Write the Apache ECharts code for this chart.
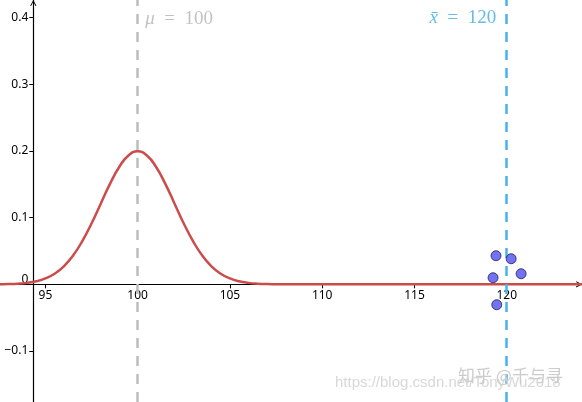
<!DOCTYPE html>
<html><head><meta charset="utf-8">
<script src="https://cdn.jsdelivr.net/npm/echarts@6/dist/echarts.min.js"></script>
<style>html,body{margin:0;padding:0;background:#fff}#c{width:582px;height:402px}</style>
</head><body><div id="c"></div>
<script>
const xRange = [92.54, 124.08];
const yRange = [-0.1765, 0.4265];
const yAxisCrossX = 94.345;
const xAxisCrossY = 0;
const xTicks = [95, 100, 105, 110, 115, 120];
const yTicks = [-0.1, 0, 0.1, 0.2, 0.3, 0.4];
const curveX = [92, 92.5, 93, 93.5, 94, 94.5, 95, 95.5, 96, 96.5, 97, 97.5, 98, 98.5, 99, 99.5, 100,
  100.5, 101, 101.5, 102, 102.5, 103, 103.5, 104, 104.5, 105, 105.5, 106, 106.5, 107, 107.5, 108, 110, 115, 125];
const curveY = [0.0000, 0.0002, 0.0004, 0.0010, 0.0022, 0.0045, 0.0088, 0.0159, 0.0270, 0.0431, 0.0648, 0.0913,
  0.1210, 0.1506, 0.1760, 0.1933, 0.1995, 0.1933, 0.1760, 0.1506, 0.1210, 0.0913, 0.0648, 0.0431, 0.0270,
  0.0159, 0.0088, 0.0045, 0.0022, 0.0010, 0.0004, 0.0002, 0.0001, 0, 0, 0];
const sampleX = [119.42, 120.24, 119.26, 120.78, 119.46];
const sampleY = [0.0429, 0.0384, 0.0099, 0.0159, -0.0306];
const mu = 100;
const xbar = 120;
const muLabelY = 0.398;
const xbarLabelY = 0.399;

const chart = echarts.init(document.getElementById('c'));
const W = chart.getWidth();
const H = chart.getHeight();
const yOffset = -(yAxisCrossX - xRange[0]) / (xRange[1] - xRange[0]) * W;
const xOffset = -(xAxisCrossY - yRange[0]) / (yRange[1] - yRange[0]) * H;
const chevron = 'path://M0,9L5,0L10,9L8.6,9.6L5,3L1.4,9.6Z';
const lblFont = 'Noto Sans';

chart.setOption({
  animation: false,
  backgroundColor: '#fff',
  grid: {left: 0, right: 0, top: 0, bottom: 0, containLabel: false, outerBoundsMode: 'none'},
  xAxis: {
    type: 'value', min: xRange[0], max: xRange[1], position: 'bottom', offset: xOffset,
    splitLine: {show: false},
    axisLine: {onZero: false, lineStyle: {color: '#000', width: 1.2}, symbol: ['none', chevron], symbolSize: [8, 6], symbolOffset: [0, -3]},
    axisTick: {show: true, length: 4, customValues: xTicks, lineStyle: {color: '#000'}},
    axisLabel: {customValues: xTicks, color: '#000', fontSize: 12, fontFamily: lblFont, margin: 5}
  },
  yAxis: {
    type: 'value', min: yRange[0], max: yRange[1], position: 'left', offset: yOffset,
    splitLine: {show: false},
    axisLine: {onZero: false, lineStyle: {color: '#000', width: 1.2}, symbol: ['none', chevron], symbolSize: [8, 6], symbolOffset: [0, -3]},
    axisTick: {show: true, length: 4, customValues: yTicks, lineStyle: {color: '#000'}},
    axisLabel: {
      customValues: yTicks, color: '#000', fontSize: 12, fontFamily: lblFont, margin: 5,
      formatter: v => v === 0 ? '{z|0}' : (v < 0 ? '\u2212' + Math.abs(v) : String(v)),
      rich: {z: {padding: [0, 0, 10, 0], fontSize: 12, fontFamily: lblFont, color: '#000'}}
    }
  },
  graphic: [
    {type: 'text', left: 335, top: 375, z: 100, style: {text: 'https://blog.csdn.net/TonyWu2018', font: '15px "Liberation Sans"', fill: '#d8d8d8'}},
    {type: 'text', left: 458, top: 367, z: 101, style: {text: '知乎 @千与寻', font: '17px "Noto Sans CJK SC"', fill: '#cccccc'}}
  ],
  series: [
    {
      type: 'line', data: curveX.map((x, i) => [x, curveY[i]]), smooth: true, showSymbol: false, clip: true,
      lineStyle: {color: '#cc4b4b', width: 2.5}, z: 3,
      markLine: {
        silent: true, symbol: ['none', 'none'], label: {show: false},
        data: [
          {xAxis: mu, lineStyle: {color: '#bdbdbd', width: 2.5, type: [10, 8]}},
          {xAxis: xbar, lineStyle: {color: '#45b4ec', width: 2.5, type: [10, 8]}}
        ]
      }
    },
    {
      type: 'scatter', data: sampleX.map((x, i) => [x, sampleY[i]]), symbolSize: 10, z: 5,
      itemStyle: {color: '#4f4ff0', borderColor: '#20205a', borderWidth: 1}
    },
    {
      type: 'scatter', silent: true, symbolSize: 1, itemStyle: {color: 'rgba(0,0,0,0)'},
      data: [
        {value: [mu, muLabelY], label: {show: true, position: 'right', distance: 7,
          formatter: '{i|\u03bc}{n|\u2002=\u2002100}',
          rich: {i: {fontFamily: 'Liberation Serif', fontStyle: 'italic', fontSize: 19, color: '#b3b3b3'},
                 n: {fontFamily: 'Liberation Serif', fontSize: 19, color: '#b3b3b3'}}}},
        {value: [xbar, xbarLabelY], label: {show: true, position: 'left', distance: 10,
          formatter: '{i|x\u0304}{n|\u2002=\u2002120}',
          rich: {i: {fontFamily: 'Liberation Serif', fontStyle: 'italic', fontSize: 19, color: '#3fa9e3'},
                 n: {fontFamily: 'Liberation Serif', fontSize: 19, color: '#3fa9e3'}}}}
      ]
    }
  ]
});
</script></body></html>
